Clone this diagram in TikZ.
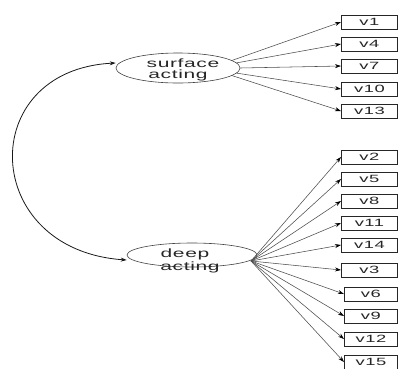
\documentclass[tikz,border=0pt]{standalone}
\usepackage{graphicx}
\usepackage{fontspec}
\newfontfamily\lblfont{Liberation Sans}[LetterSpace=3]
\usetikzlibrary{shapes.geometric,arrows.meta}
\tikzset{
  obs/.style={draw=black!85, line width=0.9pt, minimum width=56pt, minimum height=14pt, inner sep=0pt, anchor=west, font=\lblfont\fontsize{10.5}{10.5}\selectfont, text=black!85},
  lat/.style={draw=black!75, line width=0.6pt, ellipse, inner sep=0pt},
  ltxt/.style={anchor=base, inner sep=0pt, font=\lblfont\fontsize{12}{12}\selectfont, text=black!85},
  ld/.style={draw=black!70, line width=0.55pt, -{Stealth[length=6pt,width=4pt,color=black]}},
}
\newcommand{\wide}[1]{\scalebox{1.75}[1]{#1}}
\begin{document}
\begin{tikzpicture}[x=1pt,y=-1pt]
\useasboundingbox (0,0) rectangle (399,368);
% latent variables
\node[lat, minimum width=124pt, minimum height=30pt] (sa) at (178,68) {};
\node[ltxt] (sa1) at (183,67) {\wide{surface}};
\node[ltxt] (sa2) at (178,78.5) {\wide{acting}};
\node[lat, minimum width=130pt, minimum height=24pt] (da) at (192,255) {};
\node[ltxt] (da1) at (185,257) {\wide{deep}};
\node[ltxt] (da2) at (190,270) {\wide{acting}};
% observed (surface)
\node[obs] (v1) at (341,22) {\wide{v1}};
\node[obs] (v4) at (341,44) {\wide{v4}};
\node[obs] (v7) at (341,66) {\wide{v7}};
\node[obs] (v10) at (341,89) {\wide{v10}};
\node[obs] (v13) at (341,111) {\wide{v13}};
% observed (deep)
\node[obs] (v2) at (341,157) {\wide{v2}};
\node[obs] (v5) at (341,179) {\wide{v5}};
\node[obs] (v8) at (341,201) {\wide{v8}};
\node[obs] (v11) at (341,223) {\wide{v11}};
\node[obs] (v14) at (341,245) {\wide{v14}};
\node[obs] (v3) at (341,270) {\wide{v3}};
\node[obs, minimum width=53pt] (v6) at (344,294) {\wide{v6}};
\node[obs, minimum width=53pt] (v9) at (344,316) {\wide{v9}};
\node[obs, minimum width=53pt] (v12) at (344,339) {\wide{v12}};
\node[obs, minimum width=53pt] (v15) at (344,362) {\wide{v15}};
% loadings surface acting
\draw[ld] (sa.8) -- (v1.west);
\draw[ld] (sa.5) -- (v4.west);
\draw[ld] (sa.east) -- (v7.west);
\draw[ld] (sa.-5) -- (v10.west);
\draw[ld] (sa.-8) -- (v13.west);
% loadings deep acting
\coordinate (dj) at (251,261);
\foreach \v in {v2,v5,v8,v11,v14,v3,v6,v9,v12,v15}
  \draw[ld] (dj) -- (\v.west);
% covariance
\draw[black!90, line width=0.8pt, {Stealth[length=6pt,width=4pt]}-{Stealth[length=6pt,width=4pt]}]
  ([yshift=5pt]sa.west) .. controls (-25,70) and (-20,250) .. ([yshift=-5pt]da.west);
\end{tikzpicture}
\end{document}
